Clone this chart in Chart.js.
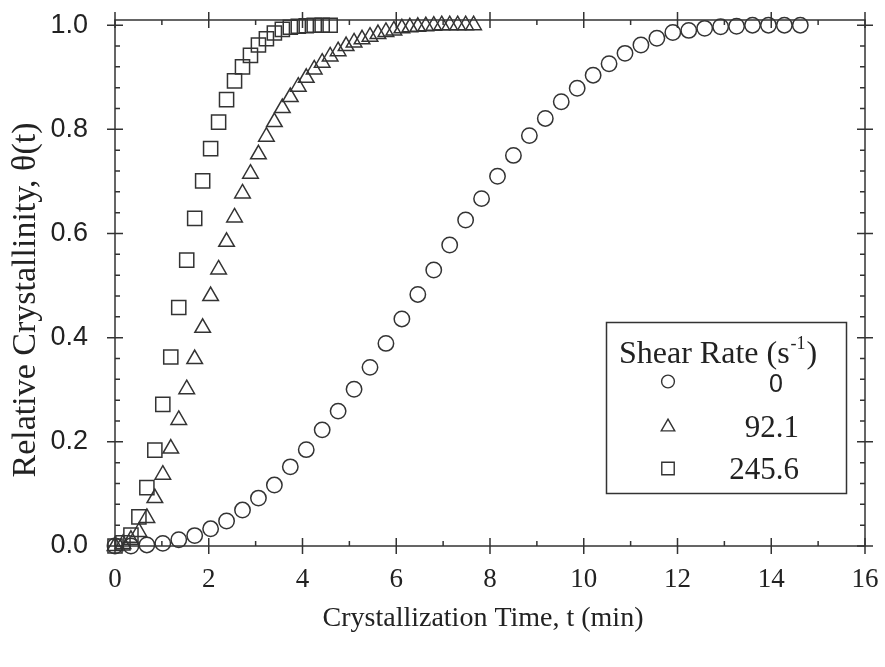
<!DOCTYPE html>
<html>
<head>
<meta charset="utf-8">
<script src="https://cdn.jsdelivr.net/npm/chart.js@4.4.0/dist/chart.umd.min.js"></script>
<style>
  html, body { margin: 0; padding: 0; background: #ffffff; }
  #wrap { width: 885px; height: 667px; }
</style>
</head>
<body>
<div id="wrap"><canvas id="chart" width="885" height="667"></canvas></div>
<script>
// Crystallization time (min) and relative crystallinity for each shear rate
const timeShear0 = [0, 0.34, 0.68, 1.02, 1.36, 1.70, 2.04, 2.38, 2.72, 3.06, 3.40, 3.74, 4.08, 4.42, 4.76,
  5.10, 5.44, 5.78, 6.12, 6.46, 6.80, 7.14, 7.48, 7.82, 8.16, 8.50, 8.84, 9.18, 9.52, 9.86, 10.20,
  10.54, 10.88, 11.22, 11.56, 11.90, 12.24, 12.58, 12.92, 13.26, 13.60, 13.94, 14.28, 14.62];
const thetaShear0 = [0, 0, 0.002, 0.005, 0.012, 0.020, 0.033, 0.048, 0.069, 0.092, 0.117, 0.152, 0.185, 0.223, 0.259,
  0.301, 0.343, 0.389, 0.436, 0.483, 0.530, 0.578, 0.626, 0.667, 0.710, 0.750, 0.788, 0.821, 0.853, 0.879, 0.904,
  0.926, 0.946, 0.962, 0.975, 0.986, 0.990, 0.994, 0.997, 0.998, 1.0, 1.0, 1.0, 1.0];

const timeShear92 = [0, 0.17, 0.34, 0.51, 0.68, 0.85, 1.02, 1.19, 1.36, 1.53, 1.70, 1.87, 2.04, 2.21, 2.38, 2.55,
  2.72, 2.89, 3.06, 3.23, 3.40, 3.57, 3.74, 3.91, 4.08, 4.25, 4.42, 4.59, 4.76, 4.93, 5.10, 5.27, 5.44, 5.61,
  5.78, 5.95, 6.12, 6.29, 6.46, 6.63, 6.80, 6.97, 7.14, 7.31, 7.48, 7.65];
const thetaShear92 = [0, 0.004, 0.012, 0.027, 0.054, 0.092, 0.137, 0.187, 0.242, 0.301, 0.359, 0.419, 0.480, 0.531, 0.584, 0.631,
  0.677, 0.715, 0.752, 0.786, 0.814, 0.841, 0.862, 0.882, 0.899, 0.915, 0.928, 0.940, 0.950, 0.960, 0.967, 0.973, 0.978, 0.983,
  0.987, 0.990, 0.994, 0.996, 0.997, 0.998, 0.999, 1.0, 1.0, 1.0, 1.0, 1.0];

const timeShear245 = [0, 0.17, 0.34, 0.51, 0.68, 0.85, 1.02, 1.19, 1.36, 1.53, 1.70, 1.87, 2.04, 2.21,
  2.38, 2.55, 2.72, 2.89, 3.06, 3.23, 3.40, 3.57, 3.74, 3.91, 4.08, 4.25, 4.42, 4.59];
const thetaShear245 = [0, 0.006, 0.021, 0.056, 0.112, 0.184, 0.272, 0.363, 0.458, 0.549, 0.629, 0.701, 0.763, 0.814,
  0.857, 0.893, 0.920, 0.942, 0.962, 0.974, 0.985, 0.992, 0.996, 0.998, 0.999, 1.0, 1.0, 1.0];

const shearRateLabels = ['0', '92.1', '245.6'];
const xTickStep = 2;
const yTickStep = 0.2;
const yTitle = 'Relative Crystallinity, θ(t)';
const xTitle = 'Crystallization Time, t (min)';

const INK = '#333333';

function toPoints(xs, ys) {
  return xs.map((x, i) => ({ x: x, y: ys[i] }));
}

// Box frame with inward minor ticks and crossing major ticks on all four sides
const framePlugin = {
  id: 'frame',
  beforeDatasetsDraw(chart) {
    const { ctx, chartArea: a, scales: { x, y } } = chart;
    ctx.save();
    ctx.strokeStyle = INK;
    ctx.lineWidth = 1.5;
    ctx.strokeRect(a.left, a.top, a.right - a.left, a.bottom - a.top);
    ctx.beginPath();
    const major = 8, minor = 5;
    for (let v = 0; v <= 16.0001; v += 1) {
      const px = x.getPixelForValue(v);
      if (v % 2 === 0) {
        ctx.moveTo(px, a.bottom - major); ctx.lineTo(px, a.bottom + major);
        ctx.moveTo(px, a.top - major); ctx.lineTo(px, a.top + major);
      } else {
        ctx.moveTo(px, a.bottom); ctx.lineTo(px, a.bottom - minor);
        ctx.moveTo(px, a.top); ctx.lineTo(px, a.top + minor);
      }
    }
    for (let i = 0; i <= 25; i++) {
      const v = i * 0.04;
      const py = y.getPixelForValue(v);
      if (i % 5 === 0) {
        ctx.moveTo(a.left - major, py); ctx.lineTo(a.left + major, py);
        ctx.moveTo(a.right - major, py); ctx.lineTo(a.right + major, py);
      } else {
        ctx.moveTo(a.left, py); ctx.lineTo(a.left + minor, py);
        ctx.moveTo(a.right, py); ctx.lineTo(a.right - minor, py);
      }
    }
    ctx.stroke();
    ctx.restore();
  }
};

// Axis titles, placed by hand slightly off the plot's centre lines
const axisTitlePlugin = {
  id: 'axisTitles',
  afterDraw(chart) {
    const { ctx } = chart;
    ctx.save();
    ctx.fillStyle = '#222222';
    ctx.textAlign = 'center';
    ctx.textBaseline = 'middle';
    ctx.font = '28px "Liberation Serif"';
    ctx.fillText(xTitle, 483, 619);
    ctx.translate(26, 300);
    ctx.rotate(-Math.PI / 2);
    ctx.font = '34px "Liberation Serif"';
    ctx.fillText(yTitle, 0, 0);
    ctx.restore();
  }
};

// Boxed key listing the shear rates
const keyPlugin = {
  id: 'shearKey',
  afterDatasetsDraw(chart) {
    const { ctx } = chart;
    ctx.save();
    ctx.strokeStyle = INK;
    ctx.lineWidth = 1.5;
    ctx.fillStyle = '#ffffff';
    ctx.fillRect(606, 322, 241, 172);
    ctx.strokeRect(606.5, 322.5, 240, 171);

    ctx.fillStyle = '#222222';
    ctx.textBaseline = 'alphabetic';
    ctx.textAlign = 'left';
    let tx = 619;
    const ty = 363;
    ctx.font = '32px "Liberation Serif"';
    const head = 'Shear Rate (s';
    ctx.fillText(head, tx, ty);
    tx += ctx.measureText(head).width;
    ctx.font = '18px "Liberation Serif"';
    ctx.fillText('-1', tx + 1, ty - 14);
    tx += ctx.measureText('-1').width + 2;
    ctx.font = '32px "Liberation Serif"';
    ctx.fillText(')', tx, ty);

    const rows = [
      { style: 'circle', r: 6.4, y: 381.5 },
      { style: 'triangle', r: 7.8, y: 427 },
      { style: 'rect', r: 8.8, y: 468.5 }
    ];
    rows.forEach((row, i) => {
      ctx.strokeStyle = INK;
      ctx.fillStyle = 'rgba(0,0,0,0)';
      ctx.lineWidth = 1.4;
      Chart.helpers.drawPoint(ctx, { pointStyle: row.style, radius: row.r, borderWidth: 1.4, rotation: 0 }, 668, row.y);
      ctx.fillStyle = '#222222';
      if (i === 0) {
        ctx.font = '25px "Liberation Sans"';
        ctx.textAlign = 'center';
        ctx.fillText(shearRateLabels[i], 776, 392);
      } else {
        ctx.font = '31px "Liberation Serif"';
        ctx.textAlign = 'right';
        ctx.fillText(shearRateLabels[i], 799, row.y + 10);
      }
    });
    ctx.restore();
  }
};

const markerBase = {
  showLine: false,
  borderColor: INK,
  backgroundColor: 'rgba(0,0,0,0)',
  pointBorderColor: INK,
  pointBackgroundColor: 'rgba(0,0,0,0)',
  pointBorderWidth: 1.5,
  pointHoverRadius: 0,
  clip: false
};

new Chart(document.getElementById('chart'), {
  type: 'scatter',
  data: {
    datasets: [
      Object.assign({}, markerBase, { label: shearRateLabels[0], data: toPoints(timeShear0, thetaShear0), pointStyle: 'circle', pointRadius: 7.7 }),
      Object.assign({}, markerBase, { label: shearRateLabels[1], data: toPoints(timeShear92, thetaShear92), pointStyle: 'triangle', pointRadius: 9 }),
      Object.assign({}, markerBase, { label: shearRateLabels[2], data: toPoints(timeShear245, thetaShear245), pointStyle: 'rect', pointRadius: 10 })
    ]
  },
  options: {
    responsive: false,
    animation: false,
    devicePixelRatio: 1,
    events: [],
    layout: { padding: { left: 0, right: 20, top: 20, bottom: 0 } },
    plugins: { legend: { display: false }, tooltip: { enabled: false } },
    scales: {
      x: {
        type: 'linear',
        min: 0,
        max: 16,
        ticks: {
          stepSize: xTickStep,
          autoSkip: false,
          maxRotation: 0,
          padding: 18,
          color: '#222222',
          font: { family: '"Liberation Serif"', size: 27 }
        },
        grid: { display: false, drawTicks: false },
        border: { display: false },
        afterFit(scale) {
          scale.height = 121;
          scale.paddingLeft = 0;
          scale.paddingRight = 0;
        }
      },
      y: {
        type: 'linear',
        min: 0,
        max: 1.01,
        ticks: {
          stepSize: yTickStep,
          includeBounds: false,
          padding: 27,
          color: '#222222',
          font: { family: '"Liberation Sans"', size: 27 },
          callback: (v) => Number(v).toFixed(1)
        },
        grid: { display: false, drawTicks: false },
        border: { display: false },
        afterFit(scale) {
          scale.width = 115;
          scale.paddingTop = 0;
          scale.paddingBottom = 0;
        }
      }
    }
  },
  plugins: [framePlugin, axisTitlePlugin, keyPlugin]
});
</script>
</body>
</html>
